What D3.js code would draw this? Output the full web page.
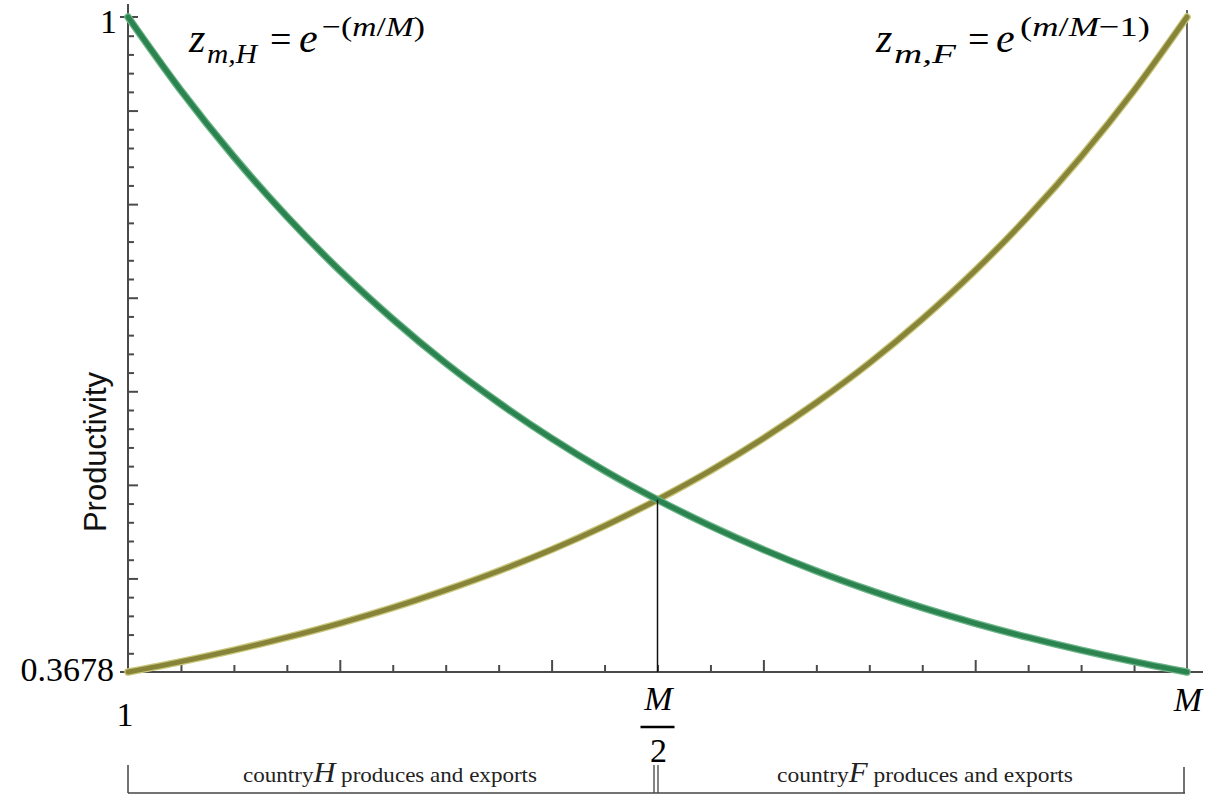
<!DOCTYPE html>
<html><head><meta charset="utf-8">
<script src="https://cdn.jsdelivr.net/npm/d3@7"></script>
<style>html,body{margin:0;padding:0;background:#fff;}svg{display:block;}</style>
</head><body>
<svg id="chart" width="1209" height="794"></svg>
<script>
// Share of range m/M (0 = good 1, 1 = good M)
const mShare = [0,0.05,0.1,0.15,0.2,0.25,0.3,0.35,0.4,0.45,0.5,0.55,0.6,0.65,0.7,0.75,0.8,0.85,0.9,0.95,1];
// Productivity in country H (green)
const zHome = [1.0,0.9291,0.8651,0.8074,0.7553,0.7084,0.6659,0.6278,0.5933,0.5621,0.5341,0.5088,0.4859,0.4653,0.4468,0.4299,0.4148,0.4012,0.3889,0.3778,0.3678];
// Productivity in country F (olive)
const zForeign = [0.3678,0.3778,0.3889,0.4012,0.4148,0.4299,0.4468,0.4653,0.4859,0.5088,0.5341,0.5621,0.5933,0.6278,0.6659,0.7084,0.7553,0.8074,0.8651,0.9291,1.0];
const yMin = 0.3678, yMax = 1;
const crossShare = 0.5, crossValue = 0.5341;
const xTickCount = 20, yTickCount = 35;
const yLabels = ["0.3678","1"];
const regionLabels = [["country","H"," produces and exports"],["country","F"," produces and exports"]];

const svg = d3.select("#chart");
const x = d3.scaleLinear().domain([0,1]).range([128,1187]);
const y = d3.scaleLinear().domain([yMin,yMax]).range([672,17]);
const axisCol = "#4a4a4a";

// x ticks
const xt = d3.range(1, xTickCount).map(i => i / xTickCount);
const xMinor = xt.filter((d,i) => (i+1) % 4 !== 0);
const xMajor = xt.filter((d,i) => (i+1) % 4 === 0);
function styleAxis(g){ g.select(".domain").remove(); g.selectAll("line").attr("stroke", axisCol).attr("stroke-width",2); g.selectAll("text").remove(); }
svg.append("g").attr("transform","translate(0,672)")
  .call(d3.axisTop(x).tickValues(xMinor).tickSize(7).tickFormat("")).call(styleAxis);
svg.append("g").attr("transform","translate(0,672)")
  .call(d3.axisTop(x).tickValues(xMajor).tickSize(12).tickFormat("")).call(styleAxis);

// y ticks
const yt = d3.range(1, yTickCount).map(i => yMin + i*(yMax-yMin)/yTickCount);
const yMinor = yt.filter((d,i) => (i+1) % 5 !== 0);
const yMajor = yt.filter((d,i) => (i+1) % 5 === 0);
svg.append("g").attr("transform","translate(128,0)")
  .call(d3.axisRight(y).tickValues(yMinor).tickSize(6).tickFormat("")).call(styleAxis);
svg.append("g").attr("transform","translate(128,0)")
  .call(d3.axisRight(y).tickValues(yMajor).tickSize(10).tickFormat("")).call(styleAxis);
[yMin,yMax].forEach(v => {
  svg.append("line").attr("x1",120).attr("x2",138).attr("y1",y(v)).attr("y2",y(v)).attr("stroke",axisCol).attr("stroke-width",2);
});

// axis lines
svg.append("line").attr("x1",x(0)).attr("x2",x(0)).attr("y1",4).attr("y2",y(yMin)+2).attr("stroke",axisCol).attr("stroke-width",2);
svg.append("line").attr("x1",x(0)-2).attr("x2",1203).attr("y1",y(yMin)).attr("y2",y(yMin)).attr("stroke",axisCol).attr("stroke-width",2);
svg.append("line").attr("x1",x(1)).attr("x2",x(1)).attr("y1",10).attr("y2",y(yMin)).attr("stroke","#333").attr("stroke-width",1.5);

// curves
const line = d3.line().x((d,i) => x(mShare[i])).y(d => y(d)).curve(d3.curveMonotoneX);
svg.append("path").datum(zForeign).attr("d",line).attr("fill","none").attr("stroke","#c9c77a").attr("stroke-width",7.5).attr("stroke-linecap","round");
svg.append("path").datum(zForeign).attr("d",line).attr("fill","none").attr("stroke","#87843a").attr("stroke-width",5).attr("stroke-linecap","round");
svg.append("path").datum(zHome).attr("d",line).attr("fill","none").attr("stroke","#6cb486").attr("stroke-width",7.5).attr("stroke-linecap","round");
svg.append("path").datum(zHome).attr("d",line).attr("fill","none").attr("stroke","#2b8450").attr("stroke-width",5).attr("stroke-linecap","round");

// M/2 vertical
svg.append("line").attr("x1",x(crossShare)).attr("x2",x(crossShare)).attr("y1",y(crossValue)).attr("y2",y(yMin)).attr("stroke","#111").attr("stroke-width",1.5);

// y labels
const serif = "'Liberation Serif', 'Times New Roman', serif";
svg.append("text").attr("x",117).attr("y",33).attr("text-anchor","end").attr("font-family",serif).attr("font-size",34).text(yLabels[1]);
svg.append("text").attr("x",114).attr("y",681).attr("text-anchor","end").attr("font-family",serif).attr("font-size",34).text(yLabels[0]);

// y title
svg.append("text").attr("transform","translate(106,452) rotate(-90)").attr("text-anchor","middle")
  .attr("font-family","'Liberation Sans', Arial, sans-serif").attr("font-size",31).attr("fill","#111").text("Productivity");

// x labels
svg.append("text").attr("x",x(0)-3).attr("y",726).attr("text-anchor","middle").attr("font-family",serif).attr("font-size",34).text("1");
svg.append("text").attr("x",x(1)+1).attr("y",711).attr("text-anchor","middle").attr("font-family",serif).attr("font-style","italic").attr("font-size",34).text("M");
svg.append("text").attr("x",x(0.5)+1).attr("y",710).attr("text-anchor","middle").attr("font-family",serif).attr("font-style","italic").attr("font-size",34).text("M");
svg.append("line").attr("x1",x(0.5)-17).attr("x2",x(0.5)+17).attr("y1",727).attr("y2",727).attr("stroke","#000").attr("stroke-width",2.5);
svg.append("text").attr("x",x(0.5)+1).attr("y",762).attr("text-anchor","middle").attr("font-family",serif).attr("font-size",34).text("2");

// formulas: each part placed at its own x
function formula(pos, sub, sup){
  const g = svg.append("g").attr("font-family",serif).attr("fill","#000");
  g.append("text").attr("x",pos[0]).attr("y",52).attr("font-style","italic").attr("font-size",42).text("z");
  g.append("text").attr("x",pos[1]).attr("y",63).attr("font-style","italic").attr("font-size",27)
    .attr("textLength",pos[2]).attr("lengthAdjust","spacingAndGlyphs").text(sub);
  g.append("text").attr("x",pos[3]).attr("y",52).attr("font-size",38).text("=");
  g.append("text").attr("x",pos[4]).attr("y",52).attr("font-style","italic").attr("font-size",42).text("e");
  const t = g.append("text").attr("x",pos[5]).attr("y",36).attr("font-size",28)
    .attr("textLength",pos[6]).attr("lengthAdjust","spacingAndGlyphs");
  sup.forEach(p => t.append("tspan").attr("font-style",p[1]?"italic":"normal").text(p[0]));
}
formula([189,207,50,270,299,322,103], "m,H", [["−(",0],["m",1],["/",0],["M",1],[")",0]]);
formula([876,894,62,968,996,1020,130], "m,F", [["(",0],["m",1],["/",0],["M",1],["−1)",0]]);

// region brackets
const by = 793;
svg.append("line").attr("x1",x(0)).attr("x2",1185).attr("y1",by).attr("y2",by).attr("stroke","#444").attr("stroke-width",1.5);
svg.append("line").attr("x1",x(0)).attr("x2",x(0)).attr("y1",765).attr("y2",by).attr("stroke","#444").attr("stroke-width",1.5);
svg.append("line").attr("x1",1184).attr("x2",1184).attr("y1",767).attr("y2",by).attr("stroke","#444").attr("stroke-width",1.5);
svg.append("line").attr("x1",654).attr("x2",654).attr("y1",765).attr("y2",by).attr("stroke","#444").attr("stroke-width",1.3);
svg.append("line").attr("x1",658).attr("x2",658).attr("y1",765).attr("y2",by).attr("stroke","#444").attr("stroke-width",1.3);
function region(x0, len, parts){
  const t = svg.append("text").attr("x",x0).attr("y",782).attr("font-family",serif).attr("font-size",22).attr("fill","#222")
    .attr("textLength",len).attr("lengthAdjust","spacingAndGlyphs");
  t.append("tspan").text(parts[0]);
  t.append("tspan").attr("font-style","italic").attr("font-size",29).text(parts[1]);
  t.append("tspan").text(parts[2]);
}
region(243, 294, regionLabels[0]);
region(777, 296, regionLabels[1]);
</script>
</body></html>
